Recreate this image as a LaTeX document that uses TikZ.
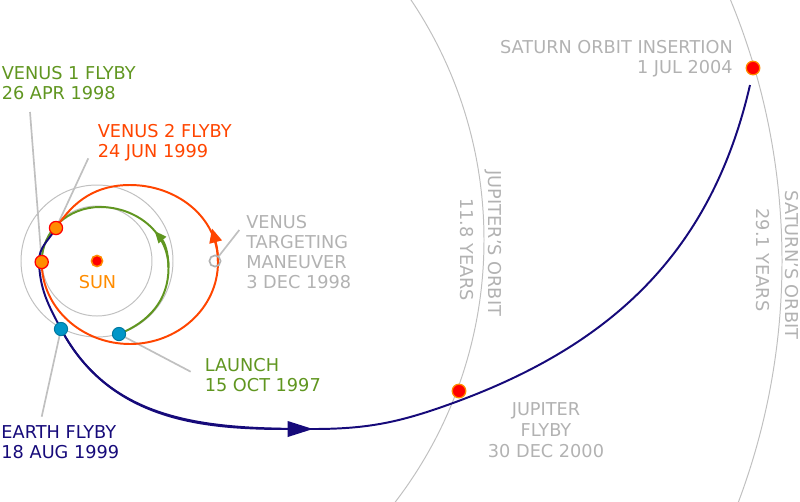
\documentclass[tikz,border=0pt]{standalone}
\usepackage{fontspec}
\setmainfont{DejaVu Sans}
\usetikzlibrary{arrows.meta}
\definecolor{cruisegreen}{RGB}{96,150,32}
\definecolor{loopred}{RGB}{255,69,0}
\definecolor{trajblue}{RGB}{22,10,122}
\definecolor{sunorange}{RGB}{255,140,0}
\definecolor{earthblue}{RGB}{0,150,200}
\definecolor{orbitgray}{RGB}{192,192,192}
\definecolor{labelgray}{RGB}{178,178,178}

\begin{document}
\begin{tikzpicture}[x=0.025cm,y=0.025cm,
 orbit/.style={orbitgray,line width=0.7pt},
 leader/.style={orbitgray,line width=1.2pt},
 leg/.style={line width=1.4pt},
 venus/.style={circle,draw=red,fill=sunorange,line width=0.9pt,minimum size=0.33cm,inner sep=0pt},
 earth/.style={circle,draw=earthblue!80!black,fill=earthblue,line width=0.7pt,minimum size=0.33cm,inner sep=0pt},
 giant/.style={circle,draw=sunorange,fill=red,line width=0.9pt,minimum size=0.34cm,inner sep=0pt},
 lbl/.style={font=\fontsize{12.6}{14.2}\selectfont,inner sep=0pt,align=left}
]
\useasboundingbox (0,0) rectangle (800,-501);
\coordinate (sun) at (97,-261);
\coordinate (v1) at (41.7,-262);
\coordinate (v2) at (56,-228);
\coordinate (launch) at (119,-334);
\coordinate (eflyby) at (61,-329);
\coordinate (jflyby) at (459,-391);
\coordinate (soi) at (753,-68);

\begin{scope}
\clip (0,0) rectangle (800,-501);
\draw[orbit] (sun) circle[radius=55];
\draw[orbit] (sun) circle[radius=76];
\draw[orbit] (53,-240) circle[radius=431];
\draw[orbit] (sun) circle[radius=685];
\end{scope}

\coordinate (v1tag) at (30,-112);
\coordinate (v2tag) at (88.3,-158.3);
\coordinate (tcmtag) at (239.3,-230);
\coordinate (launchtag) at (190.7,-371.7);
\coordinate (etag) at (41.7,-416.7);
\draw[leader] (v1tag) -- (v1);
\draw[leader] (v2tag) -- (v2);
\draw[leader] (launchtag) -- (launch);
\draw[leader] (etag) -- (eflyby);

\coordinate (gside) at (168.5,-268);
\coordinate (gtop) at (100,-207);
\coordinate (gtip) at (154.7,-231);
\draw[leg,cruisegreen] (launch) to[out=22,in=-90] (gside) to[out=90,in=0] (gtop) to[out=180,in=90] (v1);
\draw[leg,cruisegreen,-{Triangle[length=8.5pt,width=7pt]}] (gside) to[out=90,in=-49.5] (gtip);

\coordinate (obot) at (130,-344);
\coordinate (oside) at (218,-262);
\coordinate (otop) at (130,-185);
\coordinate (otip) at (212,-228.5);
\draw[leg,loopred] (v1) to[out=-90,in=180] (obot) to[out=0,in=-90] (oside) to[out=90,in=0] (otop) to[out=180,in=57] (v2);
\draw[leg,loopred,-{Triangle[length=10pt,width=9pt]}] (oside) to[out=90,in=-75] (otip);

\coordinate (vpass) at (39,-262);
\coordinate (low) at (313,-429);
\coordinate (jcross) at (453,-403);
\coordinate (trajend) at (750,-85);
\draw[leg,trajblue] (v2) to[out=240,in=92] (vpass) to[out=-88,in=118] (eflyby) to[out=-62,in=180] (low) to[out=0,in=200] (jcross) to[out=20,in=257] (trajend);
\draw[leg,trajblue,-{Triangle[length=18pt,width=11pt]}] (eflyby) to[out=-62,in=180] (low);

\node[circle,draw=labelgray,line width=1.2pt,minimum size=0.28cm,inner sep=0pt] (tcm) at (215,-261) {};
\draw[leader] (tcmtag) -- (tcm);

\node[circle,draw=sunorange,fill=red,line width=1.1pt,minimum size=0.28cm,inner sep=0pt] (sundot) at (sun) {};
\node[venus] (venus1) at (v1) {};
\node[venus] (venus2) at (v2) {};
\node[earth] (earthlaunch) at (launch) {};
\node[earth] (earthpass) at (eflyby) {};
\node[giant] (jupiter) at (jflyby) {};
\node[giant] (saturn) at (soi) {};

\node[lbl,cruisegreen,anchor=north west] (v1text) at (1.5,-66.5) {VENUS 1 FLYBY\\26 APR 1998};
\node[lbl,loopred,anchor=north west] (v2text) at (97.5,-124.5) {VENUS 2 FLYBY\\24 JUN 1999};
\node[lbl,labelgray,anchor=north west] (tcmtext) at (246,-215.5) {VENUS\\TARGETING\\MANEUVER\\3 DEC 1998};
\node[lbl,sunorange,anchor=north] (suntext) at (97.5,-275.5) {SUN};
\node[lbl,cruisegreen,anchor=north west] (launchtext) at (204.5,-358.2) {LAUNCH\\15 OCT 1997};
\node[lbl,trajblue,anchor=north west] (etext) at (1.2,-425.5) {EARTH FLYBY\\18 AUG 1999};
\node[lbl,labelgray,anchor=north,align=center,font=\fontsize{12.6}{14.9}\selectfont] (jtext) at (546,-402.2) {JUPITER\\FLYBY\\30 DEC 2000};
\node[lbl,labelgray,anchor=north east,align=right] (soitext) at (733,-40.5) {SATURN ORBIT INSERTION\\1 JUL 2004};
\node[lbl,labelgray,rotate=-90,anchor=base] (jorbit) at (488,-243.4) {JUPITER’S ORBIT};
\node[lbl,labelgray,rotate=-90,anchor=base] (jyears) at (460,-249.5) {11.8 YEARS};
\node[lbl,labelgray,rotate=-90,anchor=base] (sorbit) at (785,-265) {SATURN’S ORBIT};
\node[lbl,labelgray,rotate=-90,anchor=base] (syears) at (756.7,-260) {29.1 YEARS};
\end{tikzpicture}
\end{document}
